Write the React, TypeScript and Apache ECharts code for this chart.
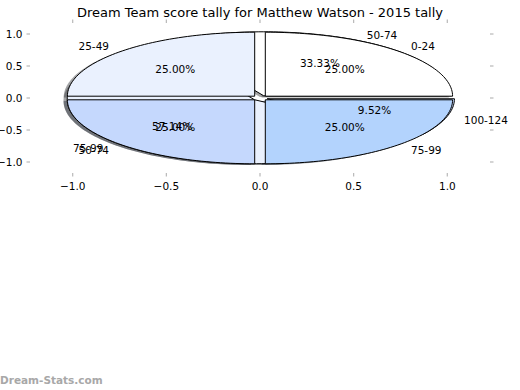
import React, { useEffect, useRef } from 'react';
import * as echarts from 'echarts';

const TITLE = 'Dream Team score tally for Matthew Watson - 2015 tally';
const WATERMARK = 'Dream-Stats.com';
const pie1Labels = ['0-24', '25-49', '50-74', '75-99'];
const pie1Values = [1, 1, 1, 1];
const pie2Labels = ['50-74', '75-99', '100-124'];
const pie2Values = [7, 12, 2];
const sliceColors = ['#ffffff', '#eaf1fe', '#c5d8fd', '#b3d3fd'];
const xTicks = [-1, -0.5, 0, 0.5, 1];
const yTicks = [-1, -0.5, 0, 0.5, 1];

const X_MIN = -1.228, X_MAX = 1.228, Y_MIN = -1.172, Y_MAX = 1.172;
const EXPLODE = 0.04;
const LABEL_DIST = 1.1;
const PCT_DIST = 0.6;
const SHADOW_OFF = -0.02;
const TICK_LEN = 3.5;
const FONT = 'DejaVu Sans';

type Wedge = { label: string; frac: number; t1: number; t2: number; color: string; cx: number; cy: number; mid: number };

function buildWedges(labels: string[], values: number[]): Wedge[] {
  const total = values.reduce((a, b) => a + b, 0);
  let cum = 0;
  return values.map((v, i) => {
    const frac = v / total;
    const t1 = 360 * cum;
    const t2 = 360 * (cum + frac);
    cum += frac;
    const mid = ((t1 + t2) / 2) * Math.PI / 180;
    return {
      label: labels[i], frac, t1, t2, color: sliceColors[i % sliceColors.length],
      cx: EXPLODE * Math.cos(mid), cy: EXPLODE * Math.sin(mid), mid,
    };
  });
}

const pie1 = buildWedges(pie1Labels, pie1Values);
const pie2 = buildWedges(pie2Labels, pie2Values);

function wedgePoints(api: any, w: Wedge, dx: number, dy: number) {
  const cx = w.cx + dx, cy = w.cy + dy;
  const pts = [api.coord([cx, cy])];
  const n = Math.max(10, Math.ceil((w.t2 - w.t1) / 1.5));
  for (let i = 0; i <= n; i++) {
    const a = (w.t1 + (w.t2 - w.t1) * i / n) * Math.PI / 180;
    pts.push(api.coord([cx + Math.cos(a), cy + Math.sin(a)]));
  }
  return pts;
}

function shade(hex: string) {
  const r = parseInt(hex.slice(1, 3), 16), g = parseInt(hex.slice(3, 5), 16), b = parseInt(hex.slice(5, 7), 16);
  return `rgba(${Math.round(r * 0.3)},${Math.round(g * 0.3)},${Math.round(b * 0.3)},0.5)`;
}

const fmt = (v: number) => (v < 0 ? '\u2212' : '') + Math.abs(v).toFixed(1);

export default function App() {
  const ref = useRef<HTMLDivElement>(null);
  useEffect(() => {
    if (!ref.current) return;
    const chart = echarts.init(ref.current, undefined, { renderer: 'svg' });
    const allWedges = [...pie2, ...pie1];
    const labelStyle = { color: '#000', fontSize: 10.5, fontFamily: FONT };
    const wedgeSeries = (wedges: Wedge[], z: number) => ({
      type: 'custom', z, coordinateSystem: 'cartesian2d', xAxisIndex: 0, yAxisIndex: 0,
      data: wedges.map((_, i) => [i]),
      renderItem: (params: any, api: any) => {
        const w = wedges[params.dataIndex];
        return {
          type: 'polygon',
          shape: { points: wedgePoints(api, w, 0, 0) },
          style: { fill: w.color, stroke: '#000', lineWidth: 1 },
        };
      },
    });
    const textItems = (wedges: Wedge[]) => {
      const out: any[] = [];
      wedges.forEach((w) => {
        const c = Math.cos(w.mid), s = Math.sin(w.mid);
        const lx = w.cx + LABEL_DIST * c, ly = w.cy + LABEL_DIST * s;
        const px = w.cx + PCT_DIST * c, py = w.cy + PCT_DIST * s;
        out.push({ x: lx, y: ly, text: w.label, align: lx > 0 ? 'left' : 'right' });
        out.push({ x: px, y: py, text: (w.frac * 100).toFixed(2) + '%', align: 'center' });
      });
      return out;
    };
    const texts = [...textItems(pie2), ...textItems(pie1)];

    // tick marks on all four sides (outward), positioned through the axes' scales
    const ticks: { v: number; side: string }[] = [
      ...xTicks.map((v) => ({ v, side: 'bottom' })),
      ...xTicks.map((v) => ({ v, side: 'top' })),
      ...yTicks.map((v) => ({ v, side: 'left' })),
      ...yTicks.map((v) => ({ v, side: 'right' })),
    ];
    const tickLineStyle = { stroke: '#b8b8b8', lineWidth: 1.2 };

    const axisBase = {
      type: 'value', axisLine: { show: false }, splitLine: { show: false }, axisTick: { show: false },
    };

    chart.setOption({
      animation: false,
      backgroundColor: '#fff',
      title: {
        text: TITLE, left: 'center', top: 1,
        textStyle: { fontSize: 13, fontWeight: 'normal', color: '#000', fontFamily: FONT },
      },
      graphic: [
        { type: 'text', left: 0, top: 374, style: { text: WATERMARK, fill: '#a8a8a8', font: `bold 10.5px "${FONT}"` } },
      ],
      grid: { left: 30, right: 30, top: 23, bottom: 217, containLabel: false, outerBoundsMode: 'none' },
      xAxis: [
        { ...axisBase, position: 'bottom', min: X_MIN, max: X_MAX,
          axisLabel: { ...labelStyle, margin: 7, customValues: xTicks, formatter: fmt } },
        { ...axisBase, position: 'top', min: X_MIN, max: X_MAX, axisLabel: { show: false } },
      ],
      yAxis: [
        { ...axisBase, position: 'left', min: Y_MIN, max: Y_MAX,
          axisLabel: { ...labelStyle, margin: 7.5, customValues: yTicks, formatter: fmt } },
        { ...axisBase, position: 'right', min: Y_MIN, max: Y_MAX, axisLabel: { show: false } },
      ],
      series: [
        {
          type: 'custom', z: 0, coordinateSystem: 'cartesian2d', xAxisIndex: 0, yAxisIndex: 0, clip: false,
          data: ticks.map((_, i) => [i]),
          renderItem: (params: any, api: any) => {
            const t = ticks[params.dataIndex];
            let p: number[], d: number[];
            if (t.side === 'bottom') { p = api.coord([t.v, Y_MIN]); d = [0, TICK_LEN]; }
            else if (t.side === 'top') { p = api.coord([t.v, Y_MAX]); d = [0, -TICK_LEN]; }
            else if (t.side === 'left') { p = api.coord([X_MIN, t.v]); d = [-TICK_LEN, 0]; }
            else { p = api.coord([X_MAX, t.v]); d = [TICK_LEN, 0]; }
            return {
              type: 'line',
              shape: { x1: p[0], y1: p[1], x2: p[0] + d[0], y2: p[1] + d[1] },
              style: tickLineStyle,
            };
          },
        },
        {
          type: 'custom', z: 1, coordinateSystem: 'cartesian2d', xAxisIndex: 0, yAxisIndex: 0,
          data: allWedges.map((_, i) => [i]),
          renderItem: (params: any, api: any) => {
            const w = allWedges[params.dataIndex];
            return {
              type: 'polygon',
              shape: { points: wedgePoints(api, w, SHADOW_OFF, SHADOW_OFF) },
              style: { fill: shade(w.color), stroke: 'none' },
            };
          },
        },
        wedgeSeries(pie2, 2),
        wedgeSeries(pie1, 3),
        {
          type: 'custom', z: 4, coordinateSystem: 'cartesian2d', xAxisIndex: 0, yAxisIndex: 0,
          data: texts.map((_, i) => [i]),
          renderItem: (params: any, api: any) => {
            const t = texts[params.dataIndex];
            const p = api.coord([t.x, t.y]);
            return {
              type: 'text', x: p[0], y: p[1],
              style: { text: t.text, fill: '#000', font: `10.5px "${FONT}"`, align: t.align, verticalAlign: 'middle' },
            };
          },
        },
      ],
    });
    return () => chart.dispose();
  }, []);
  return <div ref={ref} style={{ position: 'fixed', left: 0, top: 0, width: 520, height: 390 }} />;
}
